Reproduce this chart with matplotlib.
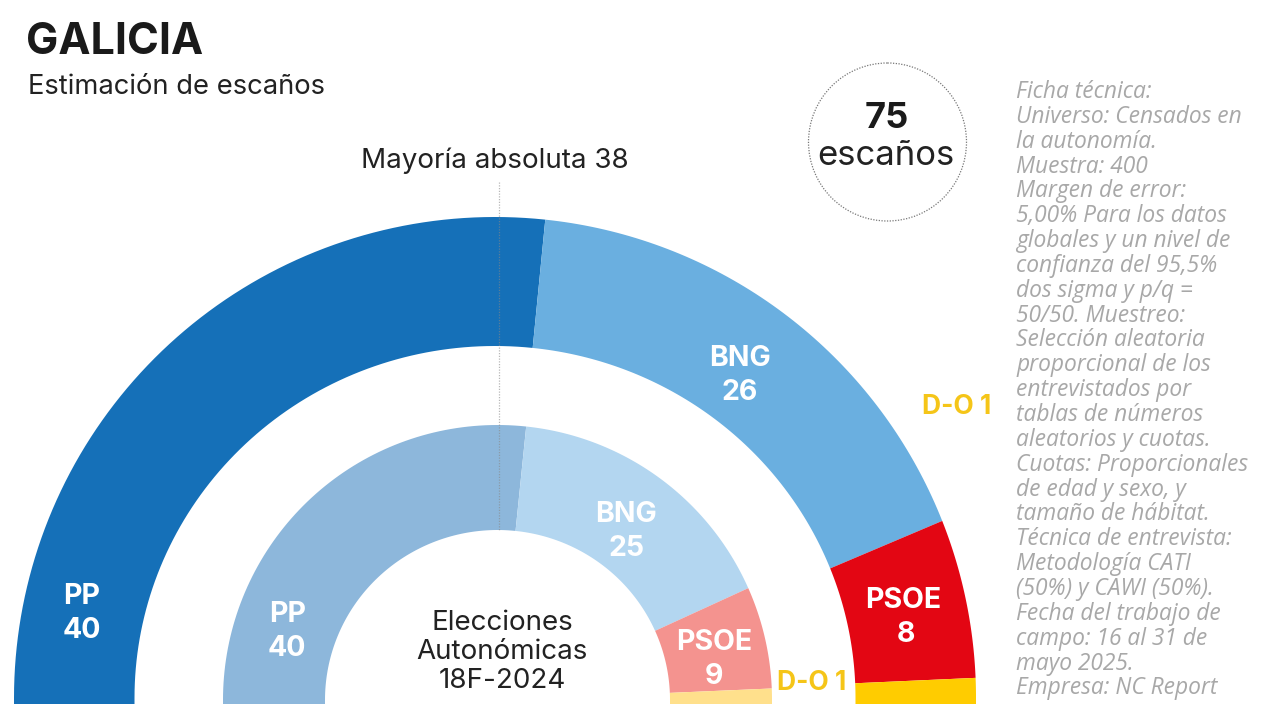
import numpy as np
import matplotlib
matplotlib.use("Agg")
import matplotlib.pyplot as plt
from matplotlib.patches import Ellipse

parties_2025 = ["PP", "BNG", "PSOE", "D-O"]
seats_2025 = [40, 26, 8, 1]
parties_2024 = ["PP", "BNG", "PSOE", "D-O"]
seats_2024 = [40, 25, 9, 1]
colors_2025 = ["#1570b8", "#6aafe0", "#e30613", "#ffcc00"]
colors_2024 = ["#8db7db", "#b3d6f0", "#f4938f", "#ffe08c"]
total = 75
majority = 38
ficha = ["Ficha técnica:", "Universo: Censados en", "la autonomía.", "Muestra: 400", "Margen de error:",
         "5,00% Para los datos", "globales y un nivel de", "confianza del 95,5%", "dos sigma y p/q =",
         "50/50. Muestreo:", "Selección aleatoria", "proporcional de los", "entrevistados por",
         "tablas de números", "aleatorios y cuotas.", "Cuotas: Proporcionales", "de edad y sexo, y",
         "tamaño de hábitat.", "Técnica de entrevista:", "Metodología CATI", "(50%) y CAWI (50%).",
         "Fecha del trabajo de", "campo: 16 al 31 de", "mayo 2025.", "Empresa: NC Report"]

plt.rcParams['font.family'] = ['Inter', 'DejaVu Sans']
fig = plt.figure(figsize=(12.8, 7.2), dpi=100, facecolor="white")
ax = fig.add_axes([0, 0, 1, 1])
ax.set_xlim(0, 1280); ax.set_ylim(720, 0); ax.axis("off")

BASE = 704

def ring(seats, colors, cx, cy, ro, ri, rot, rit):
    cum = np.concatenate([[0], np.cumsum(seats)])
    n = len(colors)
    for i, c in enumerate(colors):
        t = np.pi - np.linspace(cum[i], cum[i+1], 80) / total * np.pi
        xs = np.concatenate([cx + ro*np.cos(t), cx + ri*np.cos(t[::-1])])
        ys = np.concatenate([cy - rot*np.sin(t), cy - rit*np.sin(t[::-1])])
        if i == 0:      # straight foot at the left end
            xs = np.concatenate([[cx - ro], xs, [cx - ri]])
            ys = np.concatenate([[BASE], ys, [BASE]])
        if i == n - 1:  # straight foot at the right end
            k = len(t)
            xs = np.concatenate([xs[:k], [cx + ro, cx + ri], xs[k:]])
            ys = np.concatenate([ys[:k], [BASE, BASE], ys[k:]])
        ax.fill(xs, ys, color=c, lw=0, zorder=2)

ring(seats_2025, colors_2025, 495, 698, 481, 360.5, 481, 352)
ring(seats_2024, colors_2024, 497.5, 700, 274.5, 172.5, 275, 170)

ax.plot([499, 499], [182, 530], color="#888888", lw=0.9, ls=(0, (1, 1.2)), alpha=0.6, zorder=3)

W = dict(color="white", fontweight="bold", ha="center", va="center", fontsize=20.5, zorder=4)
for x, y, s in [(82, 596, "PP"), (82, 631, str(seats_2025[0])),
                (740, 358, "BNG"), (740, 392, str(seats_2025[1])),
                (903, 601, "PSOE"), (906, 635, str(seats_2025[2])),
                (288, 614, "PP"), (287, 649, str(seats_2024[0])),
                (626, 514, "BNG"), (627, 548, str(seats_2024[1])),
                (714, 642, "PSOE"), (714, 676, str(seats_2024[2]))]:
    ax.text(x, y, s, **W)

Y = dict(color="#f5c518", fontweight="bold", ha="center", va="center", fontsize=19, zorder=4)
ax.text(957, 407, "D-O 1", **Y)
ax.text(812, 683, "D-O 1", **Y)

ax.text(26, 43, "GALICIA", fontsize=31, fontweight="bold", color="#1a1a1a", ha="left", va="center")
ax.text(28, 87, "Estimación de escaños", fontsize=19.7, color="#222222", ha="left", va="center")
ax.text(495, 161, f"Mayoría absoluta {majority}", fontsize=20, color="#222222", ha="center", va="center")
ax.text(502, 652, "Elecciones\nAutonómicas\n18F-2024", fontsize=20, color="#222222", ha="center", va="center", linespacing=1.15)

ax.add_patch(Ellipse((887.5, 142), 158, 158, fill=False, ec="#777777", lw=0.9, ls=(0, (1, 1.2))))
ax.text(887, 118, str(total), fontsize=26, fontweight="bold", color="#1a1a1a", ha="center", va="center")
ax.text(886, 156, "escaños", fontsize=25, color="#222222", ha="center", va="center")

for i, line in enumerate(ficha):
    ax.text(1016, 92 + i*24.85, line, fontsize=16.4, style="italic", family=["Open Sans", "DejaVu Sans"],
            color="#a8a8a8", ha="left", va="center")

fig.savefig("out.png", dpi=100, facecolor="white")
